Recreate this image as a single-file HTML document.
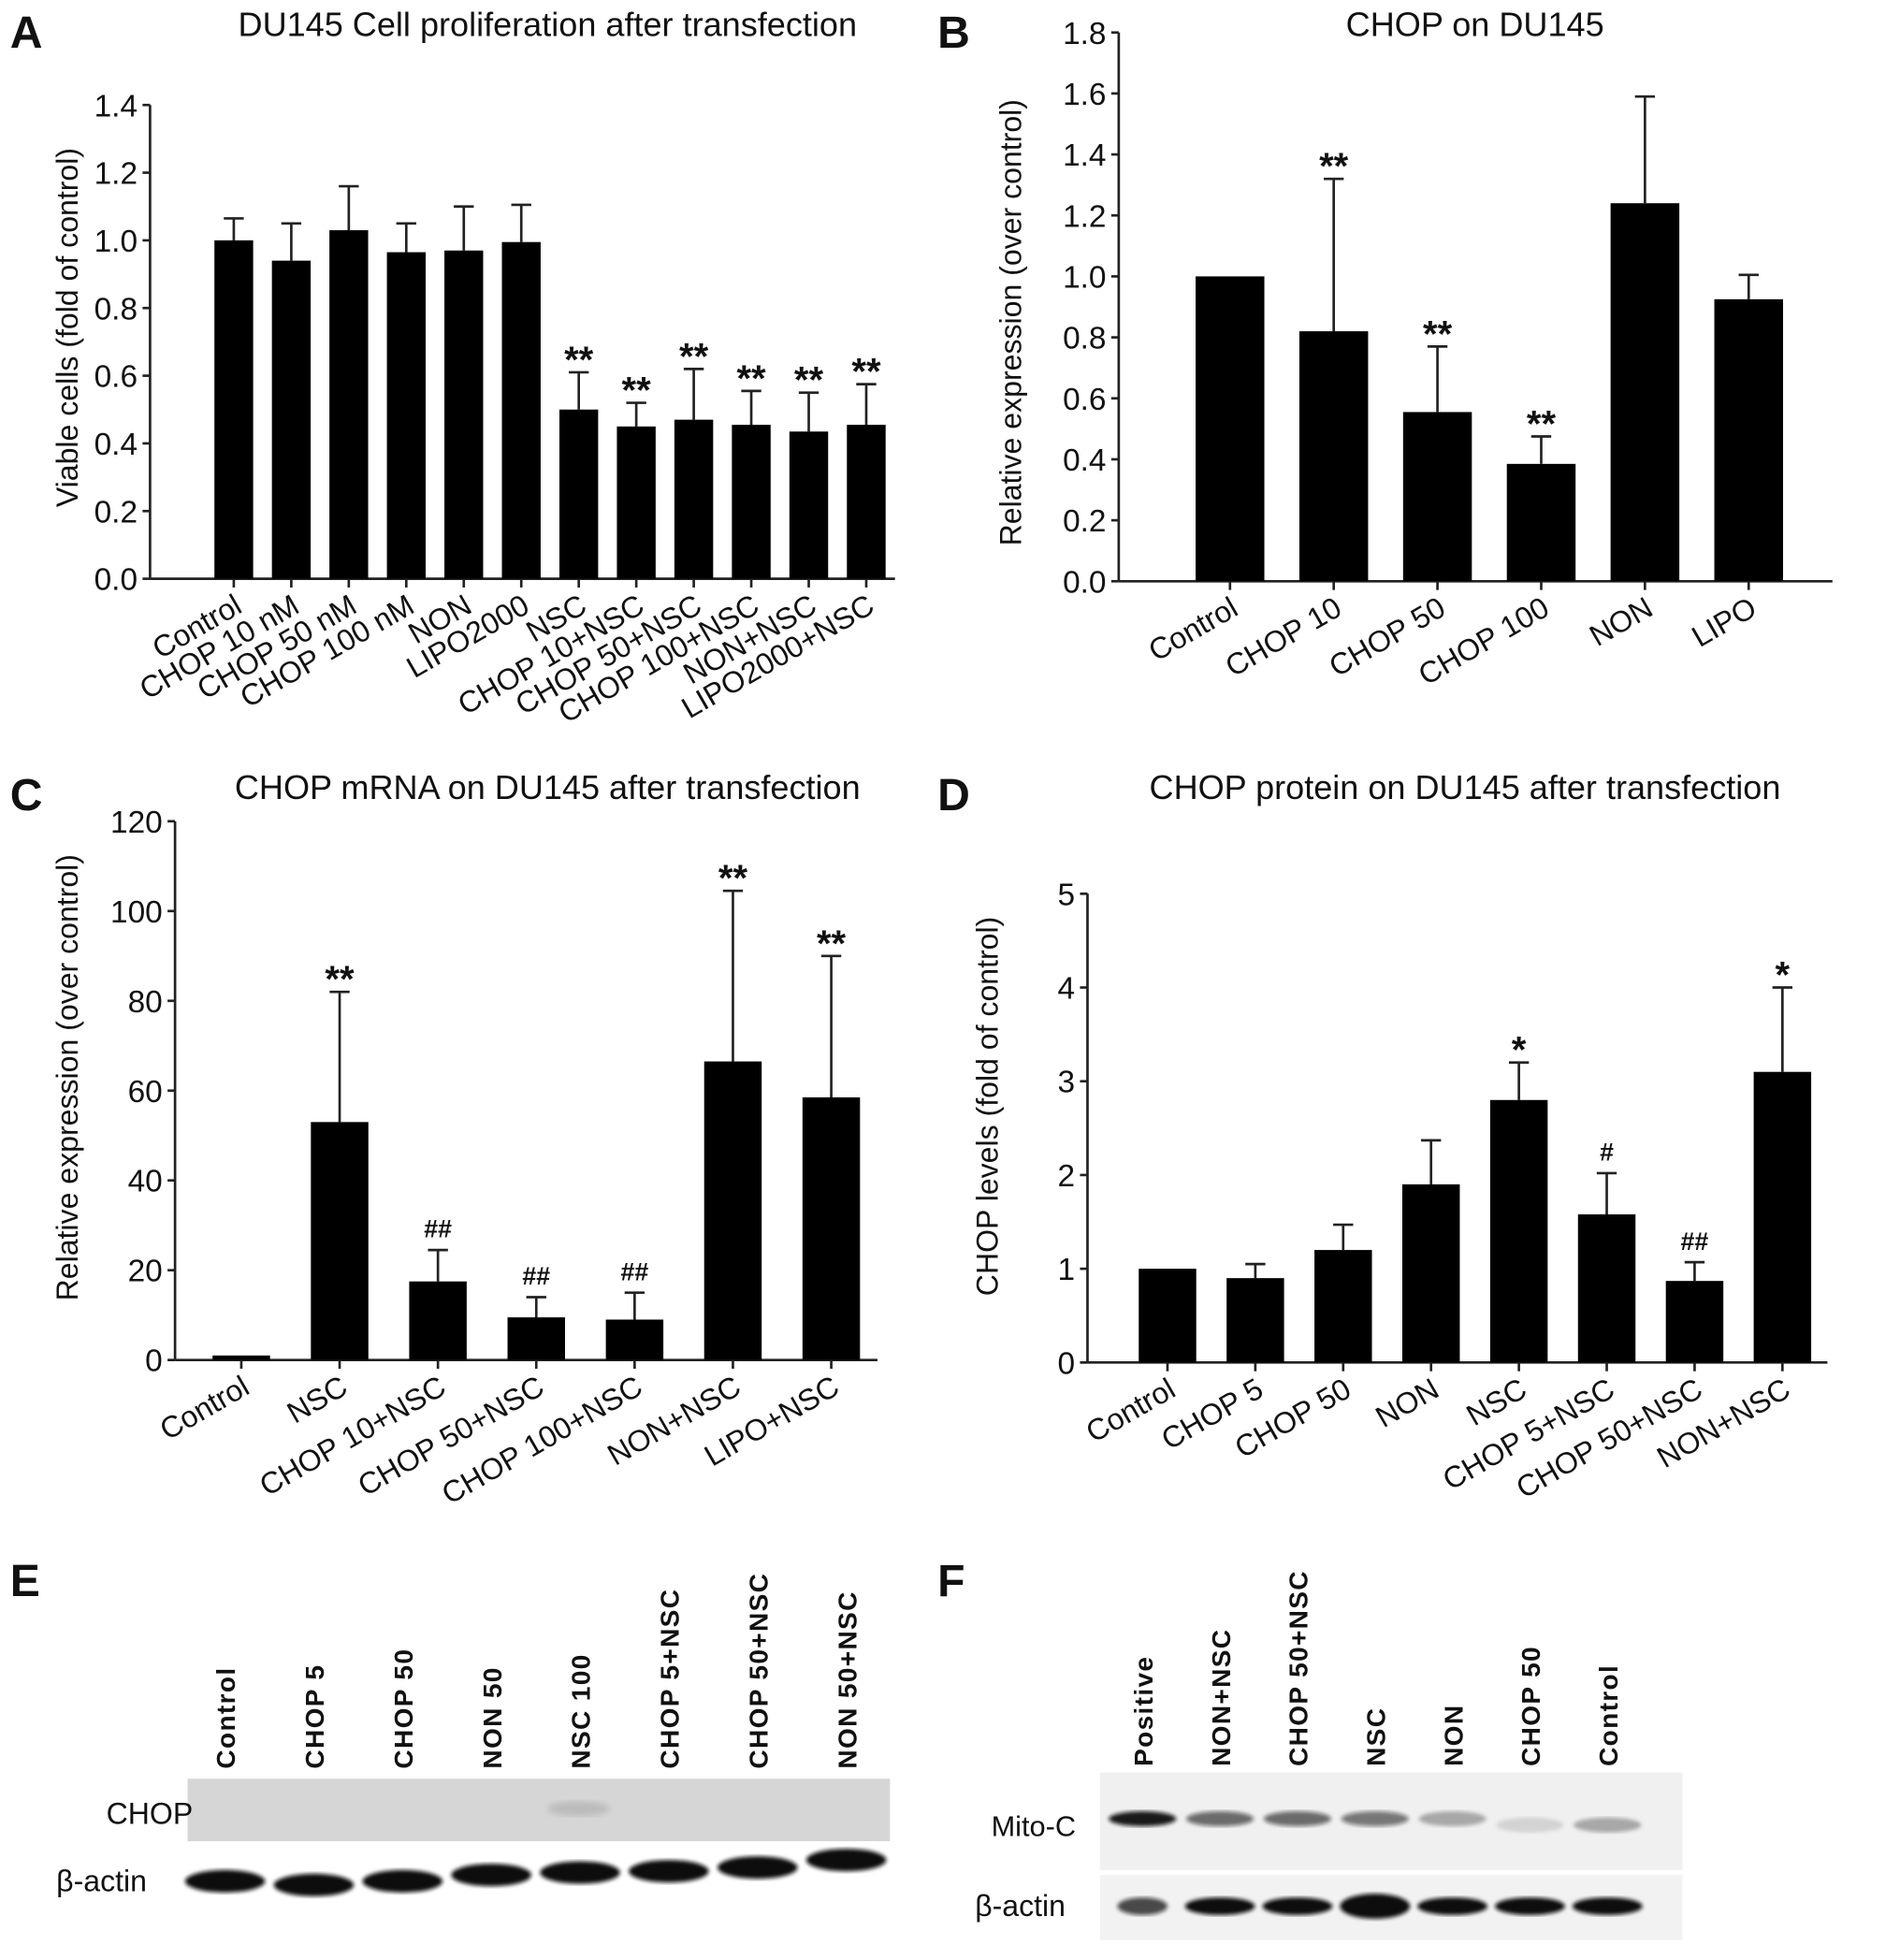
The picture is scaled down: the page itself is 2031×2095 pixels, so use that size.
<!DOCTYPE html>
<html><head><meta charset="utf-8"><style>
html,body{margin:0;padding:0;background:#fff}
svg{display:block}
text{font-family:"Liberation Sans",sans-serif;fill:#111}
</style></head><body>
<svg id="fig" width="2031" height="2095" viewBox="0 0 1520 1568" xmlns="http://www.w3.org/2000/svg">
<defs>
<filter id="blur2"><feGaussianBlur stdDeviation="2.5"/></filter>
<filter id="blur1"><feGaussianBlur stdDeviation="1.5"/></filter>
</defs>
<text x="8" y="38" font-size="36" font-weight="bold">A</text>
<text x="750" y="38" font-size="36" font-weight="bold">B</text>
<text x="8" y="648" font-size="36" font-weight="bold">C</text>
<text x="750" y="648" font-size="36" font-weight="bold">D</text>
<text x="8" y="1277" font-size="36" font-weight="bold">E</text>
<text x="750" y="1277" font-size="36" font-weight="bold">F</text>
<g id="blots"></g>
</svg>
<script>
// Panel A data
const catsA = ["Control","CHOP 10 nM","CHOP 50 nM","CHOP 100 nM","NON","LIPO2000","NSC","CHOP 10+NSC","CHOP 50+NSC","CHOP 100+NSC","NON+NSC","LIPO2000+NSC"];
const valsA = [1.0,0.94,1.03,0.965,0.97,0.995,0.50,0.45,0.47,0.455,0.435,0.455];
const errA = [0.065,0.11,0.13,0.085,0.13,0.11,0.11,0.07,0.15,0.10,0.115,0.12];
const sigA = ["","","","","","","**","**","**","**","**","**"];
const ticksA = [0,0.2,0.4,0.6,0.8,1.0,1.2,1.4];
// Panel B data
const catsB = ["Control","CHOP 10","CHOP 50","CHOP 100","NON","LIPO"];
const valsB = [1.0,0.82,0.555,0.385,1.24,0.925];
const errB = [0,0.5,0.215,0.09,0.35,0.08];
const sigB = ["","**","**","**","",""];
const ticksB = [0,0.2,0.4,0.6,0.8,1.0,1.2,1.4,1.6,1.8];
// Panel C data
const catsC = ["Control","NSC","CHOP 10+NSC","CHOP 50+NSC","CHOP 100+NSC","NON+NSC","LIPO+NSC"];
const valsC = [1,53,17.5,9.5,9,66.5,58.5];
const errC = [0,29,7,4.5,6,38,31.5];
const sigC = ["","**","##","##","##","**","**"];
const ticksC = [0,20,40,60,80,100,120];
// Panel D data
const catsD = ["Control","CHOP 5","CHOP 50","NON","NSC","CHOP 5+NSC","CHOP 50+NSC","NON+NSC"];
const valsD = [1.0,0.9,1.2,1.9,2.8,1.58,0.87,3.1];
const errD = [0,0.15,0.27,0.47,0.4,0.44,0.2,0.9];
const sigD = ["","","","","*","#","##","*"];
const ticksD = [0,1,2,3,4,5];

const NS="http://www.w3.org/2000/svg";
const svg=document.getElementById('fig');
function mk(tag,attrs,parent){const e=document.createElementNS(NS,tag);for(const k in attrs)e.setAttribute(k,attrs[k]);(parent||svg).appendChild(e);return e;}

function chart(o){
  const g=mk('g',{});
  
  
  const ymax=o.ticks[o.ticks.length-1];
  const y=v=>o.y0-(v/ymax)*(o.y0-o.y1);
  const n=o.cats.length;
  const x=i=>o.xFirst+i*(o.xLast-o.xFirst)/(n-1);
  const ya=mk('line',{x1:o.ax,y1:o.y1,x2:o.ax,y2:o.y0,stroke:'#222','stroke-width':2},g);
  
  
  const xa=mk('line',{x1:o.ax,y1:o.y0,x2:o.axEnd,y2:o.y0,stroke:'#222','stroke-width':2},g);
  
  
  o.ticks.forEach(t=>{
    mk('line',{x1:o.ax-6,y1:y(t),x2:o.ax,y2:y(t),stroke:'#222','stroke-width':2},g);
    const tl=mk('text',{x:o.ax-10,y:y(t)+9,'font-size':25,'text-anchor':'end'},g);
    tl.textContent=o.fmt(t);
    
    
  });
  o.vals.forEach((v,i)=>{
    const cx=x(i);
    if(o.err[i]>0){
      const et=y(v+o.err[i]);
      mk('line',{x1:cx,y1:et,x2:cx,y2:y(v),stroke:'#222','stroke-width':2},g);
      mk('line',{x1:cx-8,y1:et,x2:cx+8,y2:et,stroke:'#222','stroke-width':2},g);
    }
    const b=mk('rect',{x:cx-o.bw/2,y:y(v),width:o.bw,height:o.y0-y(v),fill:'#000'},g);
    
    
    mk('line',{x1:cx,y1:o.y0,x2:cx,y2:o.y0+7,stroke:'#222','stroke-width':2},g);
    if(o.sig[i]){
      const s=mk('text',{x:cx,y:y(v+o.err[i])-10+(o.sig[i].includes('*')?10:0),'font-size':o.sig[i].includes('*')?30:20,'font-weight':'bold','text-anchor':'middle'},g);
      s.textContent=o.sig[i];
      
      
    }
    const lbl=mk('text',{x:cx+8,y:o.y0+26,'font-size':24,'text-anchor':'end',transform:`rotate(${o.rot} ${cx+8} ${o.y0+26})`},g);
    lbl.textContent=o.cats[i];
    
    
  });
  const tt=mk('text',{x:o.tx,y:o.ty,'font-size':27,'text-anchor':'middle'},g);
  tt.textContent=o.title;
  
  
  const yl=mk('text',{x:o.ylx,y:o.yly,'font-size':24,'text-anchor':'middle',transform:`rotate(-90 ${o.ylx} ${o.yly})`},g);
  yl.textContent=o.ylabel;
  
  
}
chart({name:'chart-a-proliferation',cats:catsA,vals:valsA,err:errA,sig:sigA,ticks:ticksA,fmt:t=>t.toFixed(1),
  ax:120,axEnd:716,y0:463,y1:84,xFirst:187,xLast:693,bw:31,rot:-30,title:'DU145 Cell proliferation after transfection',tx:438,ty:29,ylabel:'Viable cells (fold of control)',ylx:62,yly:262});
chart({name:'chart-b-chop',cats:catsB,vals:valsB,err:errB,sig:sigB,ticks:ticksB,fmt:t=>t.toFixed(1),
  ax:895,axEnd:1466,y0:465,y1:26,xFirst:984,xLast:1399,bw:55,rot:-30,title:'CHOP on DU145',tx:1180,ty:29,ylabel:'Relative expression (over control)',ylx:817,yly:258});
chart({name:'chart-c-mrna',cats:catsC,vals:valsC,err:errC,sig:sigC,ticks:ticksC,fmt:t=>String(t),
  ax:140,axEnd:702,y0:1088,y1:657,xFirst:193,xLast:665,bw:46,rot:-30,title:'CHOP mRNA on DU145 after transfection',tx:438,ty:639,ylabel:'Relative expression (over control)',ylx:62,yly:862});
chart({name:'chart-d-protein',cats:catsD,vals:valsD,err:errD,sig:sigD,ticks:ticksD,fmt:t=>String(t),
  ax:870,axEnd:1462,y0:1090,y1:715,xFirst:934,xLast:1426,bw:46,rot:-30,title:'CHOP protein on DU145 after transfection',tx:1172,ty:639,ylabel:'CHOP levels (fold of control)',ylx:798,yly:885});

// Blots
const lanesE=["Control","CHOP 5","CHOP 50","NON 50","NSC 100","CHOP 5+NSC","CHOP 50+NSC","NON 50+NSC"];
const lanesF=["Positive","NON+NSC","CHOP 50+NSC","NSC","NON","CHOP 50","Control"];
const bg=document.getElementById('blots');
function lanes(list,x0,dx,yb,pref){
  list.forEach((l,i)=>{
    const cx=x0+i*dx;
    const t=mk('text',{x:cx+8,y:yb,'font-size':21,'font-weight':'bold','font-family':'Liberation Mono, monospace','letter-spacing':'1','text-anchor':'start',transform:`rotate(-90 ${cx+8} ${yb})`},bg);
    t.textContent=l;
    
    
  });
}
lanes(lanesE,180,71,1415,'blot-e');
lanes(lanesF,914,62,1413,'blot-f');
const eb=mk('rect',{x:150,y:1423,width:562,height:50,fill:'#d6d6d6'},bg);


const eAct=[1505,1508,1505,1500,1498,1497,1494,1488];
eAct.forEach((yy,i)=>{mk('ellipse',{cx:180+i*71,cy:yy,rx:32,ry:9,fill:'#111',filter:'url(#blur1)'},bg);});
mk('ellipse',{cx:463,cy:1447,rx:25,ry:6,fill:'#bbb',filter:'url(#blur2)'},bg);
let t1=mk('text',{x:85,y:1459,'font-size':24,'text-anchor':'start'},bg);t1.textContent='CHOP';


let t2=mk('text',{x:45,y:1513,'font-size':24},bg);t2.textContent='β-actin';


const fb=mk('rect',{x:880,y:1418,width:466,height:78,fill:'#f0f0f0'},bg);


mk('rect',{x:880,y:1500,width:466,height:52,fill:'#f2f2f2'},bg);
const fMito=[0.95,0.6,0.6,0.55,0.3,0.12,0.3];
fMito.forEach((a,i)=>{mk('ellipse',{cx:914+i*62,cy:1455+(i>4?5:0),rx:27,ry:6,fill:'#111','fill-opacity':a,filter:'url(#blur1)'},bg);});
for(let i=0;i<7;i++){mk('ellipse',{cx:914+i*62,cy:1525,rx:i==0?20:28,ry:i==3?10:7,fill:'#111','fill-opacity':i==0?0.75:1,filter:'url(#blur1)'},bg);}
let t3=mk('text',{x:793,y:1469,'font-size':23},bg);t3.textContent='Mito-C';


let t4=mk('text',{x:780,y:1533,'font-size':24},bg);t4.textContent='β-actin';


</script>
</body></html>
